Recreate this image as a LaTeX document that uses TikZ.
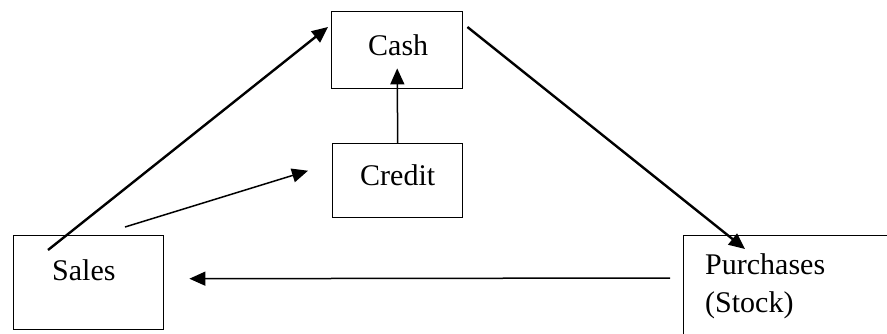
\documentclass[tikz,border=0pt]{standalone}
\usepackage{fontspec}
\setmainfont{Liberation Serif}
\usetikzlibrary{arrows.meta}

\begin{document}
\begin{tikzpicture}[x=1pt, y=-1pt,
    box/.style={draw, line width=1.4pt, anchor=north west, inner sep=0pt},
    lbl/.style={font=\fontsize{30}{38}\selectfont, anchor=base west, inner sep=0pt},
    flow/.style={-{Triangle[length=16pt, width=14pt]}, line width=1.5pt},
    bold flow/.style={flow, line width=2.4pt}]
    \useasboundingbox (0, 0) rectangle (887, 333);
    \clip (0, 0) rectangle (887, 333);

    % boxes
    \node[box, minimum width=131pt, minimum height=77pt] (cash) at (331, 11) {};
    \node[box, minimum width=130pt, minimum height=74pt] (credit) at (332, 143) {};
    \node[box, minimum width=150pt, minimum height=94pt] (sales) at (13, 235) {};
    \node[box, minimum width=260pt, minimum height=130pt] (purchases) at (683, 235) {};

    % texts
    \node[lbl] (cashtext) at (368, 55) {Cash};
    \node[lbl] (credittext) at (360, 185) {Credit};
    \node[lbl] (salestext) at (52, 280) {Sales};
    \node[lbl, align=left] (purchasestext) at (705, 312) {Purchases\\(Stock)};

    % flows
    \draw[bold flow] ([xshift=35pt, yshift=-15pt]sales.north west) -- ([xshift=-3pt, yshift=-16pt]cash.north west);
    \draw[flow] ([xshift=112pt, yshift=8pt]sales.north west) -- ([xshift=-24pt, yshift=10pt]credit.west);
    \draw[flow] (credit.north) -- ([yshift=21pt]cash.south);
    \draw[bold flow] ([xshift=4pt, yshift=-16pt]cash.north east) -- ([xshift=62pt, yshift=-14pt]purchases.north west);
    \draw[flow] ([xshift=-13pt, yshift=-43pt]purchases.north west) -- ([xshift=25pt, yshift=4pt]sales.east);
\end{tikzpicture}
\end{document}
